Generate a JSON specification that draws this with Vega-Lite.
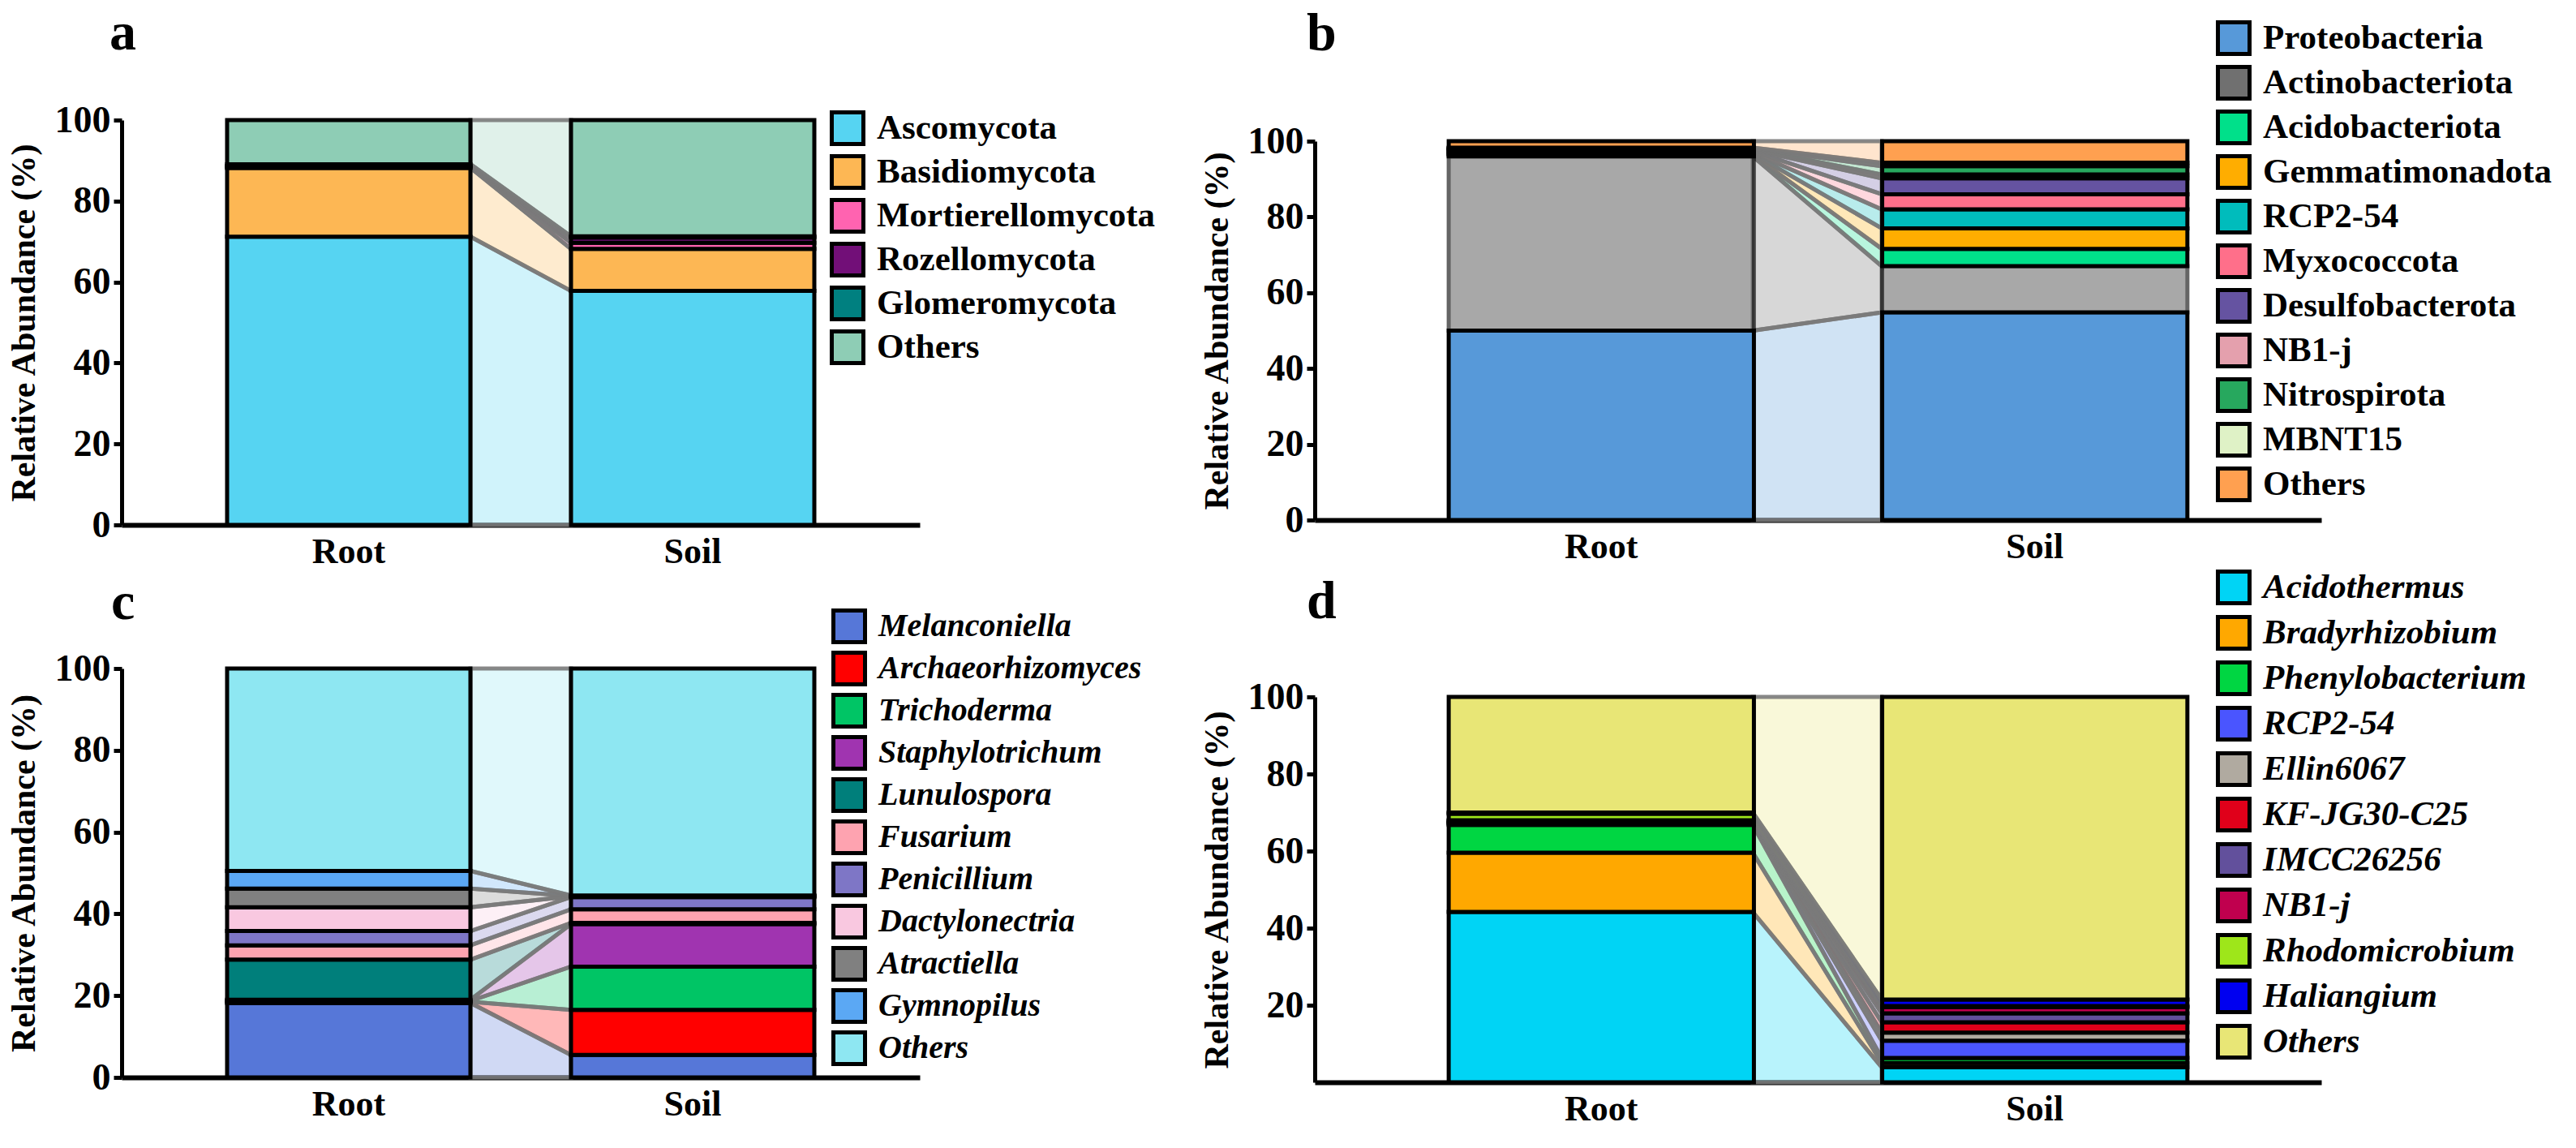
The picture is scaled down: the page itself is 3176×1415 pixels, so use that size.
{
  "$schema": "https://vega.github.io/schema/vega-lite/v6.json",
  "background": "white",
  "padding": {"left": 8, "top": 8, "right": 0, "bottom": 0},
  "config": {
    "view": {"stroke": null},
    "axis": {"labelFont": "Liberation Serif", "titleFont": "Liberation Serif", "labelFontWeight": "bold", "titleFontWeight": "bold", "labelColor": "black", "titleColor": "black", "domainColor": "black", "tickColor": "black", "grid": false},
    "legend": {"labelFont": "Liberation Serif", "labelFontWeight": "bold", "labelFontSize": 43, "labelColor": "black", "symbolType": "square", "symbolSize": 1521, "symbolStrokeColor": "black", "symbolStrokeWidth": 5, "symbolOpacity": 1, "rowPadding": -5, "labelOffset": 14, "padding": 0, "labelLimit": 800}
  },
  "columns": 2,
  "align": "each",
  "bounds": "flush",
  "spacing": {"row": 177, "column": 487},
  "resolve": {"scale": {"color": "independent"}, "legend": {"color": "independent"}},
  "concat": [
    {
      "title": {"text": "a", "anchor": "start", "frame": "group", "fontSize": 66, "font": "Liberation Serif", "fontWeight": "bold", "dx": -15, "dy": 83, "offset": 81, "baseline": "alphabetic"},
      "width": 984, "height": 499,
      "data": {"values": [
        {"taxon": "Ascomycota", "rank": 1, "sample": "Root", "value": 71.2},
        {"taxon": "Ascomycota", "rank": 1, "sample": "Soil", "value": 57.8},
        {"taxon": "Basidiomycota", "rank": 2, "sample": "Root", "value": 17.0},
        {"taxon": "Basidiomycota", "rank": 2, "sample": "Soil", "value": 10.4},
        {"taxon": "Mortierellomycota", "rank": 3, "sample": "Root", "value": 0.2},
        {"taxon": "Mortierellomycota", "rank": 3, "sample": "Soil", "value": 1.5},
        {"taxon": "Rozellomycota", "rank": 4, "sample": "Root", "value": 0.3},
        {"taxon": "Rozellomycota", "rank": 4, "sample": "Soil", "value": 1.3},
        {"taxon": "Glomeromycota", "rank": 5, "sample": "Root", "value": 0.4},
        {"taxon": "Glomeromycota", "rank": 5, "sample": "Soil", "value": 0.3},
        {"taxon": "Others", "rank": 6, "sample": "Root", "value": 10.9},
        {"taxon": "Others", "rank": 6, "sample": "Soil", "value": 28.7}
      ]},
      "layer": [
        {
          "mark": {"type": "area", "fillOpacity": 0.28, "stroke": "#7a7a7a", "strokeWidth": 5, "strokeOpacity": 0.9},
          "encoding": {
            "x": {"field": "sample", "type": "nominal", "scale": {"type": "point", "domain": ["Root", "Soil"], "range": [430, 554], "padding": 0}, "axis": null},
            "y": {"field": "value", "type": "quantitative", "stack": "zero", "scale": {"domain": [0, 100], "nice": false}},
            "color": {"field": "taxon", "type": "nominal", "scale": {"domain": ["Ascomycota", "Basidiomycota", "Mortierellomycota", "Rozellomycota", "Glomeromycota", "Others"], "range": ["#56d4f2", "#fdb754", "#ff63b0", "#720f78", "#008080", "#8ecdb5"]}},
            "order": {"field": "rank", "type": "quantitative"}
          }
        },
        {
          "mark": {"type": "bar", "stroke": "black", "strokeWidth": 5},
          "encoding": {
            "x": {"field": "sample", "type": "nominal", "scale": {"type": "band", "domain": ["Root", "Soil"], "paddingInner": 0.2925, "paddingOuter": 0.3066}, "axis": {"title": null, "labelFontSize": 44, "ticks": false, "domainWidth": 6, "labelPadding": 11, "labelAngle": 0}},
            "y": {"field": "value", "type": "quantitative", "stack": "zero", "scale": {"domain": [0, 100], "nice": false}, "axis": {"values": [0, 20, 40, 60, 80, 100], "title": "Relative Abundance (%)", "titleFontSize": 42, "labelFontSize": 46, "tickSize": 10, "tickWidth": 5, "domainWidth": 5, "labelPadding": 4, "titlePadding": 16}},
            "color": {"field": "taxon", "type": "nominal", "scale": {"domain": ["Ascomycota", "Basidiomycota", "Mortierellomycota", "Rozellomycota", "Glomeromycota", "Others"], "range": ["#56d4f2", "#fdb754", "#ff63b0", "#720f78", "#008080", "#8ecdb5"]}, "legend": {"orient": "none", "legendX": 873, "legendY": -12, "title": null, "symbolStrokeColor": "black", "symbolOpacity": 1, "rowPadding": -6}},
            "order": {"field": "rank", "type": "quantitative"}
          }
        }
      ],
      "resolve": {"scale": {"x": "independent"}}
    },
    {
      "title": {"text": "b", "anchor": "start", "frame": "group", "fontSize": 66, "font": "Liberation Serif", "fontWeight": "bold", "dx": -10, "dy": 184, "offset": 81, "baseline": "alphabetic"},
      "width": 1241, "height": 493,
      "data": {"values": [
        {"taxon": "Proteobacteria", "rank": 1, "sample": "Root", "value": 50.0},
        {"taxon": "Proteobacteria", "rank": 1, "sample": "Soil", "value": 54.8},
        {"taxon": "Actinobacteriota", "rank": 2, "sample": "Root", "value": 46.0},
        {"taxon": "Actinobacteriota", "rank": 2, "sample": "Soil", "value": 12.2},
        {"taxon": "Acidobacteriota", "rank": 3, "sample": "Root", "value": 0.4},
        {"taxon": "Acidobacteriota", "rank": 3, "sample": "Soil", "value": 4.6},
        {"taxon": "Gemmatimonadota", "rank": 4, "sample": "Root", "value": 0.3},
        {"taxon": "Gemmatimonadota", "rank": 4, "sample": "Soil", "value": 5.4},
        {"taxon": "RCP2-54", "rank": 5, "sample": "Root", "value": 0.3},
        {"taxon": "RCP2-54", "rank": 5, "sample": "Soil", "value": 5.0},
        {"taxon": "Myxococcota", "rank": 6, "sample": "Root", "value": 0.4},
        {"taxon": "Myxococcota", "rank": 6, "sample": "Soil", "value": 4.0},
        {"taxon": "Desulfobacterota", "rank": 7, "sample": "Root", "value": 0.3},
        {"taxon": "Desulfobacterota", "rank": 7, "sample": "Soil", "value": 4.2},
        {"taxon": "NB1-j", "rank": 8, "sample": "Root", "value": 0.2},
        {"taxon": "NB1-j", "rank": 8, "sample": "Soil", "value": 1.0},
        {"taxon": "Nitrospirota", "rank": 9, "sample": "Root", "value": 0.2},
        {"taxon": "Nitrospirota", "rank": 9, "sample": "Soil", "value": 2.2},
        {"taxon": "MBNT15", "rank": 10, "sample": "Root", "value": 0.2},
        {"taxon": "MBNT15", "rank": 10, "sample": "Soil", "value": 0.9},
        {"taxon": "Others", "rank": 11, "sample": "Root", "value": 1.7},
        {"taxon": "Others", "rank": 11, "sample": "Soil", "value": 5.7}
      ]},
      "layer": [
        {
          "mark": {"type": "area", "fillOpacity": 0.28, "stroke": "#7a7a7a", "strokeWidth": 5, "strokeOpacity": 0.9},
          "encoding": {
            "x": {"field": "sample", "type": "nominal", "scale": {"type": "point", "domain": ["Root", "Soil"], "range": [540, 699], "padding": 0}, "axis": null},
            "y": {"field": "value", "type": "quantitative", "stack": "zero", "scale": {"domain": [0, 100], "nice": false, "range": [493, 26]}},
            "color": {"field": "taxon", "type": "nominal", "scale": {"domain": ["Proteobacteria", "Actinobacteriota", "Acidobacteriota", "Gemmatimonadota", "RCP2-54", "Myxococcota", "Desulfobacterota", "NB1-j", "Nitrospirota", "MBNT15", "Others"], "range": ["#5799d9", "#707070", "#00e08a", "#ffad00", "#00bcbc", "#ff6f8a", "#6553a1", "#e4a0ad", "#27a85e", "#dff2c6", "#ffa050"]}},
            "order": {"field": "rank", "type": "quantitative"}
          }
        },
        {
          "mark": {"type": "bar", "stroke": "black", "strokeWidth": 5},
          "encoding": {
            "x": {"field": "sample", "type": "nominal", "scale": {"type": "band", "domain": ["Root", "Soil"], "paddingInner": 0.2959, "paddingOuter": 0.309}, "axis": {"title": null, "labelFontSize": 44, "ticks": false, "domainWidth": 6, "labelPadding": 11, "labelAngle": 0}},
            "y": {"field": "value", "type": "quantitative", "stack": "zero", "scale": {"domain": [0, 100], "nice": false, "range": [493, 26]}, "axis": {"values": [0, 20, 40, 60, 80, 100], "title": "Relative Abundance (%)", "titleFontSize": 42, "labelFontSize": 46, "tickSize": 10, "tickWidth": 5, "domainWidth": 5, "labelPadding": 4, "titlePadding": 16}},
            "color": {"field": "taxon", "type": "nominal", "scale": {"domain": ["Proteobacteria", "Actinobacteriota", "Acidobacteriota", "Gemmatimonadota", "RCP2-54", "Myxococcota", "Desulfobacterota", "NB1-j", "Nitrospirota", "MBNT15", "Others"], "range": ["#5799d9", "#707070", "#00e08a", "#ffad00", "#00bcbc", "#ff6f8a", "#6553a1", "#e4a0ad", "#27a85e", "#dff2c6", "#ffa050"]}, "legend": {"orient": "none", "legendX": 1111, "legendY": -123, "title": null, "symbolStrokeColor": "black", "symbolOpacity": 1, "rowPadding": -5}},
            "opacity": {"condition": {"test": "datum.taxon === 'Actinobacteriota'", "value": 0.6}, "value": 1},
            "order": {"field": "rank", "type": "quantitative"}
          }
        }
      ],
      "resolve": {"scale": {"x": "independent"}}
    },
    {
      "title": {"text": "c", "anchor": "start", "frame": "group", "fontSize": 66, "font": "Liberation Serif", "fontWeight": "bold", "dx": -13, "dy": 137, "offset": 58, "baseline": "alphabetic"},
      "width": 984, "height": 504,
      "data": {"values": [
        {"taxon": "Melanconiella", "rank": 1, "sample": "Root", "value": 18.2},
        {"taxon": "Melanconiella", "rank": 1, "sample": "Soil", "value": 5.5},
        {"taxon": "Archaeorhizomyces", "rank": 2, "sample": "Root", "value": 0.3},
        {"taxon": "Archaeorhizomyces", "rank": 2, "sample": "Soil", "value": 11.0},
        {"taxon": "Trichoderma", "rank": 3, "sample": "Root", "value": 0.2},
        {"taxon": "Trichoderma", "rank": 3, "sample": "Soil", "value": 10.6},
        {"taxon": "Staphylotrichum", "rank": 4, "sample": "Root", "value": 0.3},
        {"taxon": "Staphylotrichum", "rank": 4, "sample": "Soil", "value": 10.4},
        {"taxon": "Lunulospora", "rank": 5, "sample": "Root", "value": 9.8},
        {"taxon": "Lunulospora", "rank": 5, "sample": "Soil", "value": 0.3},
        {"taxon": "Fusarium", "rank": 6, "sample": "Root", "value": 3.5},
        {"taxon": "Fusarium", "rank": 6, "sample": "Soil", "value": 3.3},
        {"taxon": "Penicillium", "rank": 7, "sample": "Root", "value": 3.5},
        {"taxon": "Penicillium", "rank": 7, "sample": "Soil", "value": 3.0},
        {"taxon": "Dactylonectria", "rank": 8, "sample": "Root", "value": 5.8},
        {"taxon": "Dactylonectria", "rank": 8, "sample": "Soil", "value": 0.2},
        {"taxon": "Atractiella", "rank": 9, "sample": "Root", "value": 4.6},
        {"taxon": "Atractiella", "rank": 9, "sample": "Soil", "value": 0.1},
        {"taxon": "Gymnopilus", "rank": 10, "sample": "Root", "value": 4.3},
        {"taxon": "Gymnopilus", "rank": 10, "sample": "Soil", "value": 0.1},
        {"taxon": "Others", "rank": 11, "sample": "Root", "value": 49.5},
        {"taxon": "Others", "rank": 11, "sample": "Soil", "value": 55.5}
      ]},
      "layer": [
        {
          "mark": {"type": "area", "fillOpacity": 0.28, "stroke": "#7a7a7a", "strokeWidth": 5, "strokeOpacity": 0.9},
          "encoding": {
            "x": {"field": "sample", "type": "nominal", "scale": {"type": "point", "domain": ["Root", "Soil"], "range": [430, 554], "padding": 0}, "axis": null},
            "y": {"field": "value", "type": "quantitative", "stack": "zero", "scale": {"domain": [0, 100], "nice": false}},
            "color": {"field": "taxon", "type": "nominal", "scale": {"domain": ["Melanconiella", "Archaeorhizomyces", "Trichoderma", "Staphylotrichum", "Lunulospora", "Fusarium", "Penicillium", "Dactylonectria", "Atractiella", "Gymnopilus", "Others"], "range": ["#5677d8", "#ff0000", "#00c565", "#a034b0", "#007f7b", "#fea3b0", "#7e76c6", "#f9c8e0", "#808080", "#5ba8f4", "#8ee7f2"]}},
            "order": {"field": "rank", "type": "quantitative"}
          }
        },
        {
          "mark": {"type": "bar", "stroke": "black", "strokeWidth": 5},
          "encoding": {
            "x": {"field": "sample", "type": "nominal", "scale": {"type": "band", "domain": ["Root", "Soil"], "paddingInner": 0.2925, "paddingOuter": 0.3066}, "axis": {"title": null, "labelFontSize": 44, "ticks": false, "domainWidth": 6, "labelPadding": 11, "labelAngle": 0}},
            "y": {"field": "value", "type": "quantitative", "stack": "zero", "scale": {"domain": [0, 100], "nice": false}, "axis": {"values": [0, 20, 40, 60, 80, 100], "title": "Relative Abundance (%)", "titleFontSize": 42, "labelFontSize": 46, "tickSize": 10, "tickWidth": 5, "domainWidth": 5, "labelPadding": 4, "titlePadding": 16}},
            "color": {"field": "taxon", "type": "nominal", "scale": {"domain": ["Melanconiella", "Archaeorhizomyces", "Trichoderma", "Staphylotrichum", "Lunulospora", "Fusarium", "Penicillium", "Dactylonectria", "Atractiella", "Gymnopilus", "Others"], "range": ["#5677d8", "#ff0000", "#00c565", "#a034b0", "#007f7b", "#fea3b0", "#7e76c6", "#f9c8e0", "#808080", "#5ba8f4", "#8ee7f2"]}, "legend": {"orient": "none", "legendX": 875, "legendY": -74, "title": null, "labelFontStyle": "italic", "labelFontSize": 40, "rowPadding": -9, "symbolStrokeColor": "black", "symbolOpacity": 1}},
            "order": {"field": "rank", "type": "quantitative"}
          }
        }
      ],
      "resolve": {"scale": {"x": "independent"}}
    },
    {
      "title": {"text": "d", "anchor": "start", "frame": "group", "fontSize": 66, "font": "Liberation Serif", "fontWeight": "bold", "dx": -10, "dy": 184, "offset": 58, "baseline": "alphabetic"},
      "width": 1241, "height": 510,
      "data": {"values": [
        {"taxon": "Acidothermus", "rank": 1, "sample": "Root", "value": 44.2},
        {"taxon": "Acidothermus", "rank": 1, "sample": "Soil", "value": 3.9},
        {"taxon": "Bradyrhizobium", "rank": 2, "sample": "Root", "value": 15.4},
        {"taxon": "Bradyrhizobium", "rank": 2, "sample": "Soil", "value": 1.1},
        {"taxon": "Phenylobacterium", "rank": 3, "sample": "Root", "value": 7.2},
        {"taxon": "Phenylobacterium", "rank": 3, "sample": "Soil", "value": 1.3},
        {"taxon": "RCP2-54", "rank": 4, "sample": "Root", "value": 0.3},
        {"taxon": "RCP2-54", "rank": 4, "sample": "Soil", "value": 4.5},
        {"taxon": "Ellin6067", "rank": 5, "sample": "Root", "value": 0.2},
        {"taxon": "Ellin6067", "rank": 5, "sample": "Soil", "value": 2.1},
        {"taxon": "KF-JG30-C25", "rank": 6, "sample": "Root", "value": 0.3},
        {"taxon": "KF-JG30-C25", "rank": 6, "sample": "Soil", "value": 2.7},
        {"taxon": "IMCC26256", "rank": 7, "sample": "Root", "value": 0.2},
        {"taxon": "IMCC26256", "rank": 7, "sample": "Soil", "value": 2.3},
        {"taxon": "NB1-j", "rank": 8, "sample": "Root", "value": 0.2},
        {"taxon": "NB1-j", "rank": 8, "sample": "Soil", "value": 1.6},
        {"taxon": "Rhodomicrobium", "rank": 9, "sample": "Root", "value": 1.7},
        {"taxon": "Rhodomicrobium", "rank": 9, "sample": "Soil", "value": 0.3},
        {"taxon": "Haliangium", "rank": 10, "sample": "Root", "value": 0.3},
        {"taxon": "Haliangium", "rank": 10, "sample": "Soil", "value": 1.7},
        {"taxon": "Others", "rank": 11, "sample": "Root", "value": 30.0},
        {"taxon": "Others", "rank": 11, "sample": "Soil", "value": 78.5}
      ]},
      "layer": [
        {
          "mark": {"type": "area", "fillOpacity": 0.28, "stroke": "#7a7a7a", "strokeWidth": 5, "strokeOpacity": 0.9},
          "encoding": {
            "x": {"field": "sample", "type": "nominal", "scale": {"type": "point", "domain": ["Root", "Soil"], "range": [540, 699], "padding": 0}, "axis": null},
            "y": {"field": "value", "type": "quantitative", "stack": "zero", "scale": {"domain": [0, 100], "nice": false, "range": [510, 35]}},
            "color": {"field": "taxon", "type": "nominal", "scale": {"domain": ["Acidothermus", "Bradyrhizobium", "Phenylobacterium", "RCP2-54", "Ellin6067", "KF-JG30-C25", "IMCC26256", "NB1-j", "Rhodomicrobium", "Haliangium", "Others"], "range": ["#00d4f5", "#ffa800", "#00d642", "#4a55ff", "#b0aaa0", "#e0001a", "#62509c", "#c0004e", "#9ee61a", "#0000f0", "#e8e676"]}},
            "order": {"field": "rank", "type": "quantitative"}
          }
        },
        {
          "mark": {"type": "bar", "stroke": "black", "strokeWidth": 5},
          "encoding": {
            "x": {"field": "sample", "type": "nominal", "scale": {"type": "band", "domain": ["Root", "Soil"], "paddingInner": 0.2959, "paddingOuter": 0.309}, "axis": {"title": null, "labelFontSize": 44, "ticks": false, "domainWidth": 6, "labelPadding": 11, "labelAngle": 0}},
            "y": {"field": "value", "type": "quantitative", "stack": "zero", "scale": {"domain": [0, 100], "nice": false, "range": [510, 35]}, "axis": {"values": [20, 40, 60, 80, 100], "title": "Relative Abundance (%)", "titleFontSize": 42, "labelFontSize": 46, "tickSize": 10, "tickWidth": 5, "domainWidth": 5, "labelPadding": 4, "titlePadding": 16}},
            "color": {"field": "taxon", "type": "nominal", "scale": {"domain": ["Acidothermus", "Bradyrhizobium", "Phenylobacterium", "RCP2-54", "Ellin6067", "KF-JG30-C25", "IMCC26256", "NB1-j", "Rhodomicrobium", "Haliangium", "Others"], "range": ["#00d4f5", "#ffa800", "#00d642", "#4a55ff", "#b0aaa0", "#e0001a", "#62509c", "#c0004e", "#9ee61a", "#0000f0", "#e8e676"]}, "legend": {"orient": "none", "legendX": 1111, "legendY": -122, "title": null, "labelFontStyle": "italic", "symbolStrokeColor": "black", "symbolOpacity": 1, "rowPadding": -4}},
            "order": {"field": "rank", "type": "quantitative"}
          }
        }
      ],
      "resolve": {"scale": {"x": "independent"}}
    }
  ]
}
